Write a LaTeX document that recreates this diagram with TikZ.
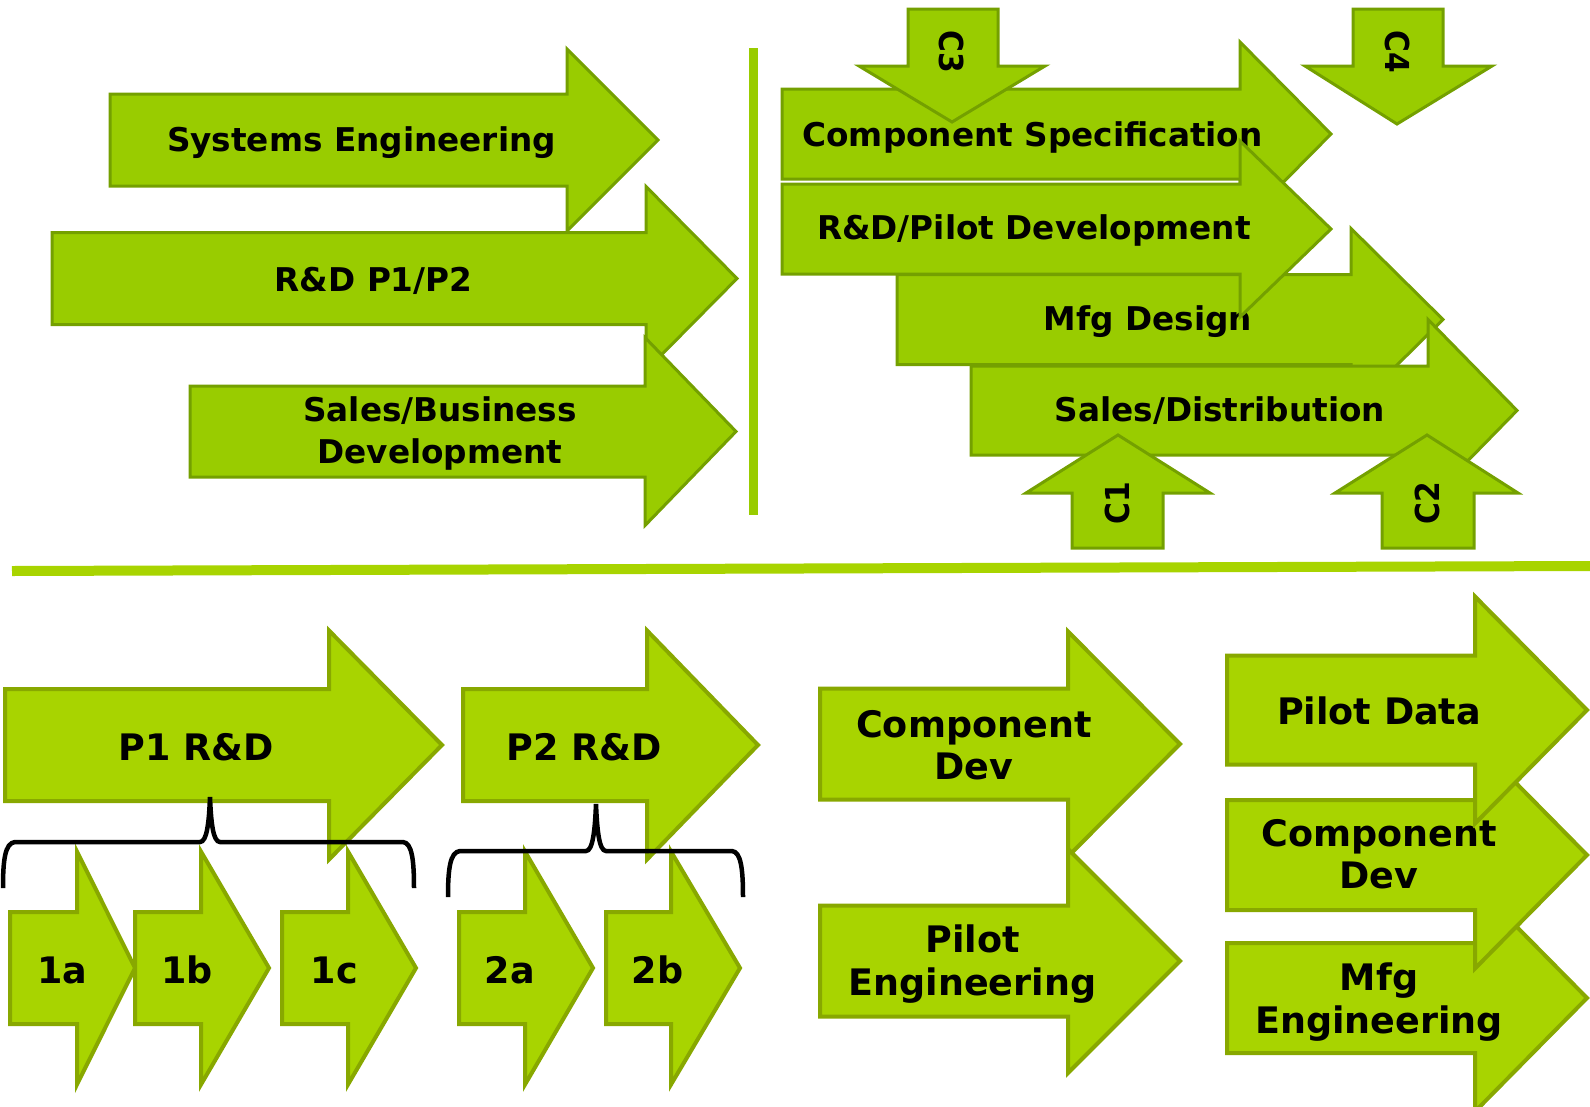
\documentclass[tikz,border=0pt]{standalone}
\usepackage{fontspec}
\setmainfont{DejaVu Sans}
\newfontfamily\cfont{DejaVu Sans Condensed}
\definecolor{gtop}{HTML}{99CC00}
\definecolor{gtopedge}{HTML}{74A000}
\definecolor{gbot}{HTML}{A8D400}
\definecolor{gbotedge}{HTML}{88A800}
\definecolor{gline}{HTML}{A8D400}
% right-pointing block arrow: [style]{left x}{centre y}{body half height}{head x}{head half height}{tip x}
\newcommand\rarr[7][]{%
  \draw[#1] (#2,#3-#4) -- (#5,#3-#4) -- (#5,#3-#6) -- (#7,#3) -- (#5,#3+#6)
    -- (#5,#3+#4) -- (#2,#3+#4) -- cycle;}
% vertical block arrow: [style]{shaft left}{shaft right}{shaft end y}{wing y}{wing left}{wing right}{tip x}{tip y}
\newcommand\varr[9][]{%
  \draw[#1] (#2,#4) -- (#3,#4) -- (#3,#5) -- (#7,#5) -- (#8,#9) -- (#6,#5)
    -- (#2,#5) -- cycle;}
% two centred lines, baseline on the first line
\newcommand\twoline[2]{\vtop{\halign{\hfil##\hfil\cr#1\cr#2\cr}}}
\begin{document}
\begin{tikzpicture}[x=1pt,y=-1pt,
  topshape/.style={fill=gtop,draw=gtopedge,line width=3pt,line join=miter},
  botshape/.style={fill=gbot,draw=gbotedge,line width=4pt,line join=miter},
  toplbl/.style={anchor=base,inner sep=0pt,font=\fontsize{32.7}{42}\selectfont\bfseries},
  botlbl/.style={anchor=base,inner sep=0pt,font=\fontsize{36.5}{42.5}\selectfont\bfseries},
  clbl/.style={anchor=center,inner sep=0pt,font=\fontsize{33}{36}\selectfont\cfont\bfseries},
  rule/.style={draw=gline,line width=10pt}]
\useasboundingbox (0,0) rectangle (1590,1106);
\clip (0,0) rectangle (1590,1106);

% ---- upper left: parallel tracks ----
\rarr[topshape]{110}{140}{46}{567}{91}{658}
\node[toplbl] (syseng) at (361.5,151) {Systems Engineering};
\rarr[topshape]{52}{278.5}{46}{646}{92}{737}
\node[toplbl] (rdp) at (373.6,291) {R\&D P1/P2};
\rarr[topshape]{190}{431.5}{45.5}{645}{94}{736}
\node[toplbl] (salesbiz) at (440,421) {\twoline{Sales/Business}{Development}};

\coordinate (vtop) at (753,48);
\coordinate (vbot) at (753,515);
\draw[draw=gtop,line width=9pt] (vtop) -- (vbot);

% ---- upper right: overlapping stages with inputs ----
\rarr[topshape]{782}{134}{45}{1240}{92}{1331}
\node[toplbl] (cspec) at (1032.6,146) {Component Specification};
\rarr[topshape]{897}{319.5}{45}{1351}{91}{1443}
\node[toplbl] (mfgdes) at (1148,330) {Mfg Design};
\rarr[topshape]{782}{229}{45}{1240}{88}{1331}
\node[toplbl] (rdpilot) at (1034,239) {R\&D/Pilot Development};
\rarr[topshape]{971}{410.5}{44.5}{1428}{91}{1517}
\node[toplbl] (salesdist) at (1220,421) {Sales/Distribution};

\varr[topshape]{908}{998}{9}{66}{859}{1045}{952}{122}
\node[clbl,rotate=-90] (c3) at (952,51.5) {C3};
\varr[topshape]{1353}{1443}{9}{66}{1305}{1492}{1397}{124}
\node[clbl,rotate=-90] (c4) at (1397,52) {C4};
\varr[topshape]{1072}{1163}{548}{493}{1026}{1210}{1118}{435}
\node[clbl,rotate=90] (c1) at (1117.5,503) {C1};
\varr[topshape]{1382}{1474}{548}{493}{1335}{1518}{1427}{435}
\node[clbl,rotate=90] (c2) at (1427.5,503) {C2};

% ---- separator ----
\coordinate (sepl) at (12,571);
\coordinate (sepr) at (1590,566);
\draw[rule] (sepl) -- (sepr);

% ---- lower left: phases and sub-steps ----
\rarr[botshape]{5}{745}{56}{329}{114.5}{442}
\node[botlbl] (p1) at (196,760) {P1 R\&D};
\rarr[botshape]{463}{745}{56}{647}{114.5}{758}
\node[botlbl] (p2) at (584,760) {P2 R\&D};

\rarr[botshape]{10}{968}{56}{77}{116.5}{135}
\node[botlbl] (s1a) at (62.5,983) {1a};
\rarr[botshape]{135}{968}{56}{201}{116.5}{269}
\node[botlbl] (s1b) at (187,983) {1b};
\rarr[botshape]{282}{968}{56}{348}{116.5}{416}
\node[botlbl] (s1c) at (334.5,983) {1c};
\rarr[botshape]{459}{968}{56}{525}{116.5}{593}
\node[botlbl] (s2a) at (510,983) {2a};
\rarr[botshape]{606}{968}{56}{671}{116.5}{740}
\node[botlbl] (s2b) at (657.6,983) {2b};

% grouping braces
\draw[line width=4.5pt] (3,888) .. controls (3,860) and (5,843) .. (15,842)
  -- (200,842) .. controls (207,842) and (209,822) .. (210,797)
  .. controls (211,822) and (213,842) .. (220,842)
  -- (403,842) .. controls (412,843) and (414,860) .. (414,888);
\draw[line width=4.5pt] (448,897) .. controls (448,869) and (450,852) .. (460,851)
  -- (586,851) .. controls (593,851) and (595,829) .. (596,804)
  .. controls (597,829) and (599,851) .. (606,851)
  -- (732,851) .. controls (741,852) and (743,869) .. (743,897);

% ---- lower right ----
\rarr[botshape]{820}{744}{55.5}{1068}{112.5}{1180}
\node[botlbl] (cdevl) at (973.8,737) {\twoline{Component}{Dev}};
\rarr[botshape]{820}{961}{55.5}{1068}{112}{1180}
\node[botlbl,font=\fontsize{36.5}{43}\selectfont\bfseries] (pileng) at (972.5,952) {\twoline{Pilot}{Engineering}};

\rarr[botshape]{1227}{998}{55}{1475}{113.5}{1587}
\node[botlbl,font=\fontsize{36.5}{43}\selectfont\bfseries] (mfgeng) at (1379,990) {\twoline{Mfg}{Engineering}};
\rarr[botshape]{1227}{855}{55}{1475}{113.5}{1587}
\node[botlbl] (cdevr) at (1379,846) {\twoline{Component}{Dev}};
\rarr[botshape]{1227}{710}{54.5}{1475}{113.5}{1587}
\node[botlbl] (pdata) at (1379,724) {Pilot Data};
\end{tikzpicture}
\end{document}
